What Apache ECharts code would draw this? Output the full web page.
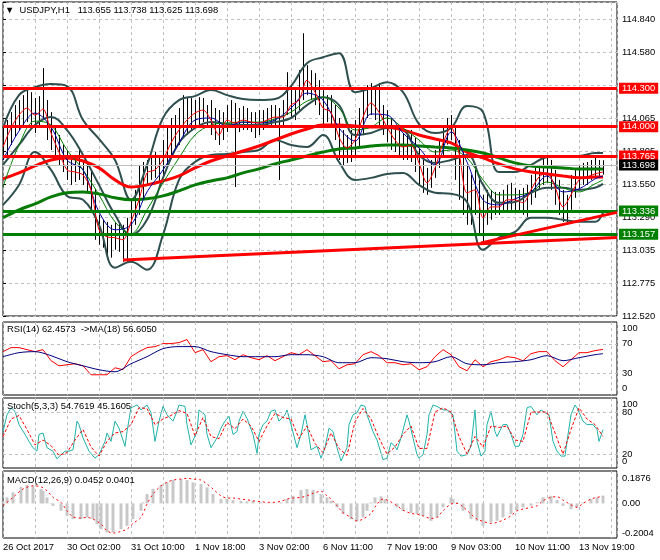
<!DOCTYPE html>
<html><head><meta charset="utf-8">
<script src="https://cdn.jsdelivr.net/npm/echarts@6/dist/echarts.min.js"></script>
<style>html,body{margin:0;padding:0;background:#fff}#c{width:660px;height:560px}</style>
</head><body><div id="c"></div>
<script>
// ---------- DATA ----------
const xTickLabels = ['26 Oct 2017','30 Oct 02:00','31 Oct 10:00','1 Nov 18:00','3 Nov 02:00','6 Nov 11:00','7 Nov 19:00','9 Nov 03:00','10 Nov 11:00','13 Nov 19:00'];
const priceTickValues = [112.520,112.778,113.036,113.293,113.551,113.809,114.067,114.325,114.582,114.840];
const priceTickLabels = ['112.520','112.775','113.035','113.290','113.550','113.805','114.065','','114.580','114.840'];
const barStep = 2; // one candle drawn every 2 hourly bars

const candleOpen = [113.802,113.841,113.919,113.990,114.052,114.091,114.130,114.153,114.114,114.075,
114.114,114.146,114.052,113.951,113.857,113.802,113.740,113.662,113.639,113.662,
113.678,113.623,113.584,113.506,113.311,113.210,113.171,113.132,113.116,113.139,
113.132,113.116,113.171,113.256,113.334,113.428,113.545,113.646,113.662,113.678,
113.646,113.740,113.818,113.873,113.912,113.974,114.013,114.052,114.075,114.107,
114.114,114.130,114.091,114.036,113.974,113.935,113.990,114.052,114.075,114.036,
114.036,114.052,114.052,114.036,114.021,114.036,114.052,114.068,114.068,114.083,
114.068,114.091,114.208,114.169,114.146,114.247,114.348,114.364,114.325,114.270,
114.192,114.130,114.130,114.114,114.029,113.919,113.841,113.834,113.857,113.896,
113.951,114.068,114.177,114.185,114.146,114.114,114.052,113.997,113.935,113.896,
113.873,113.841,113.841,113.857,113.779,113.701,113.607,113.561,113.623,113.701,
113.779,113.873,113.974,113.997,113.896,113.740,113.623,113.483,113.428,113.490,
113.428,113.288,113.350,113.373,113.373,113.381,113.405,113.444,113.451,113.428,
113.412,113.405,113.428,113.506,113.545,113.600,113.646,113.662,113.623,113.545,
113.451,113.389,113.366,113.467,113.545,113.584,113.615,113.623,113.646,113.662,
113.655];
const candleClose = [113.841,113.919,113.990,114.052,114.091,114.130,114.153,114.114,114.075,114.114,
114.146,114.052,113.951,113.857,113.802,113.740,113.662,113.639,113.662,113.678,
113.623,113.584,113.506,113.311,113.210,113.171,113.132,113.116,113.139,113.132,
113.116,113.171,113.256,113.334,113.428,113.545,113.646,113.662,113.678,113.646,
113.740,113.818,113.873,113.912,113.974,114.013,114.052,114.075,114.107,114.114,
114.130,114.091,114.036,113.974,113.935,113.990,114.052,114.075,114.036,114.036,
114.052,114.052,114.036,114.021,114.036,114.052,114.068,114.068,114.083,114.068,
114.091,114.208,114.169,114.146,114.247,114.348,114.364,114.325,114.270,114.192,
114.130,114.130,114.114,114.029,113.919,113.841,113.834,113.857,113.896,113.951,
114.068,114.177,114.185,114.146,114.114,114.052,113.997,113.935,113.896,113.873,
113.841,113.841,113.857,113.779,113.701,113.607,113.561,113.623,113.701,113.779,
113.873,113.974,113.997,113.896,113.740,113.623,113.483,113.428,113.490,113.428,
113.288,113.350,113.373,113.373,113.381,113.405,113.444,113.451,113.428,113.412,
113.405,113.428,113.506,113.545,113.600,113.646,113.662,113.623,113.545,113.451,
113.389,113.366,113.467,113.545,113.584,113.615,113.623,113.646,113.662,113.678,
113.698];
const candleHigh = [114.013,114.052,114.114,114.169,114.208,114.247,114.309,114.270,114.224,114.239,
114.458,114.208,114.114,113.990,113.935,113.857,113.818,113.740,113.779,113.818,
113.740,113.724,113.662,113.515,113.311,113.272,113.256,113.233,113.256,113.249,
113.233,113.288,113.428,113.506,113.701,113.724,113.740,113.779,113.802,113.779,
113.896,114.013,114.068,114.091,114.146,114.247,114.231,114.224,114.208,114.231,
114.224,114.169,114.208,114.146,114.130,114.114,114.169,114.208,114.185,114.146,
114.161,114.146,114.114,114.114,114.130,114.130,114.146,114.169,114.169,114.146,
114.208,114.426,114.325,114.286,114.442,114.731,114.481,114.442,114.419,114.364,
114.286,114.247,114.247,114.169,114.068,113.974,113.935,113.974,114.052,114.146,
114.286,114.325,114.341,114.302,114.341,114.169,114.130,114.068,114.013,113.974,
113.951,113.958,113.974,113.912,113.834,113.740,113.678,113.740,113.818,113.896,
114.013,114.068,114.091,114.013,113.896,113.818,113.701,113.623,113.662,113.584,
113.467,113.506,113.506,113.490,113.490,113.506,113.545,113.561,113.522,113.506,
113.522,113.545,113.623,113.678,113.701,113.763,113.756,113.740,113.662,113.584,
113.506,113.467,113.623,113.662,113.701,113.717,113.724,113.740,113.756,113.740,
113.738];
const candleLow = [113.740,113.779,113.857,113.919,113.974,114.013,114.036,113.990,113.951,114.013,
114.052,113.896,113.818,113.756,113.701,113.646,113.584,113.545,113.568,113.584,
113.545,113.490,113.350,113.116,113.077,113.054,112.999,112.976,113.038,113.022,
112.944,112.944,113.155,113.233,113.311,113.428,113.545,113.584,113.600,113.568,
113.623,113.701,113.779,113.818,113.857,113.912,113.935,113.974,114.013,114.013,
114.036,113.990,113.935,113.896,113.857,113.896,113.958,113.990,113.529,113.958,
113.974,113.974,113.958,113.912,113.935,113.974,113.990,113.990,114.013,113.584,
114.013,114.091,114.068,114.052,114.130,114.208,114.247,114.208,114.169,114.091,
114.013,114.036,113.990,113.896,113.740,113.701,113.717,113.724,113.779,113.834,
113.940,114.068,114.091,114.052,114.013,113.935,113.880,113.818,113.802,113.779,
113.740,113.740,113.724,113.646,113.545,113.483,113.467,113.522,113.600,113.678,
113.756,113.860,113.896,113.584,113.428,113.311,113.233,113.233,113.311,113.155,
113.100,113.233,113.272,113.311,113.311,113.327,113.334,113.350,113.334,113.327,
113.311,113.295,113.389,113.444,113.506,113.545,113.561,113.506,113.389,113.311,
113.256,113.249,113.350,113.444,113.506,113.545,113.545,113.584,113.600,113.615,
113.625];

// fast MA (thin red), sampled every 4 bars
const maFast = [113.841,113.990,114.091,114.146,114.091,114.138,113.951,113.802,113.662,113.646,
113.623,113.506,113.194,113.139,113.132,113.116,113.256,113.428,113.639,113.662,
113.740,113.873,113.974,114.052,114.107,114.130,114.052,113.935,114.052,114.029,
114.052,114.036,114.029,114.052,114.075,114.075,114.169,114.208,114.364,114.270,
114.146,114.114,113.919,113.834,113.896,114.075,114.185,114.114,113.997,113.896,
113.841,113.857,113.717,113.561,113.678,113.873,113.997,113.795,113.483,113.506,
113.288,113.373,113.373,113.428,113.428,113.405,113.506,113.607,113.639,113.529,
113.373,113.467,113.584,113.607,113.631,113.646];
// the following are sampled every 8 bars plus the last bar
const maMid = [113.740,113.966,114.107,113.997,113.740,113.662,113.334,113.194,113.233,113.490,
113.662,113.873,114.052,114.068,114.005,114.036,114.029,114.052,114.146,114.263,
114.208,113.990,113.888,114.099,114.091,113.951,113.834,113.701,113.958,113.724,
113.428,113.389,113.436,113.490,113.615,113.490,113.514,113.592,113.615];
const maSlow = [113.529,113.857,114.044,114.013,113.818,113.662,113.467,113.256,113.163,113.350,
113.561,113.756,113.935,114.013,114.029,114.036,114.036,114.060,114.114,114.200,
114.231,114.146,113.974,113.997,114.068,113.990,113.896,113.802,113.818,113.756,
113.584,113.467,113.467,113.490,113.568,113.522,113.490,113.553,113.584];
const maLongRed = [113.592,113.639,113.693,113.740,113.756,113.732,113.678,113.584,113.529,113.545,
113.576,113.615,113.678,113.732,113.771,113.810,113.849,113.896,113.943,113.982,
114.013,114.013,114.005,113.997,113.997,113.974,113.935,113.904,113.873,113.802,
113.756,113.709,113.670,113.646,113.631,113.615,113.600,113.607,113.607];
const maLongGreen = [113.288,113.350,113.397,113.451,113.483,113.490,113.475,113.444,113.428,113.436,
113.459,113.498,113.545,113.576,113.600,113.639,113.670,113.709,113.740,113.771,
113.802,113.826,113.834,113.849,113.857,113.857,113.849,113.841,113.834,113.818,
113.795,113.756,113.717,113.693,113.685,113.678,113.670,113.670,113.670];
const bbUpper = [113.990,114.247,114.309,114.333,114.317,114.052,113.904,113.740,113.428,113.701,
114.068,114.208,114.239,114.286,114.247,114.216,114.208,114.216,114.317,114.497,
114.543,114.575,114.270,114.302,114.348,114.270,114.021,113.951,113.990,114.161,
114.114,113.646,113.646,113.701,113.763,113.771,113.771,113.795,113.795];
const bbMiddle = [113.701,113.857,114.013,114.075,113.974,113.779,113.545,113.311,113.155,113.272,
113.600,113.873,113.990,114.036,114.021,114.013,114.013,114.036,114.068,114.169,
114.231,114.169,113.935,113.951,113.990,113.974,113.779,113.717,113.740,113.779,
113.545,113.405,113.412,113.483,113.522,113.522,113.506,113.522,113.553];
const bbLower = [113.389,113.545,113.802,113.662,113.459,113.428,113.233,112.898,112.944,112.882,
113.155,113.584,113.724,113.779,113.787,113.802,113.818,113.896,113.857,113.841,
113.935,113.724,113.584,113.600,113.631,113.639,113.545,113.483,113.475,113.412,
113.038,113.132,113.178,113.288,113.288,113.272,113.256,113.256,113.327];

const redLevels = [114.300, 114.000, 113.765];
const greenLevels = [113.336, 113.157];
const bidPrice = 113.698;
const trendLines = [[[60, 112.958], [307, 113.134]], [[239, 113.092], [307, 113.330]]];

// RSI(14) every 4 bars, MA(18) every 8 bars + last
const rsiValues = [59.4,64.9,64.9,62.1,59.4,62.1,47.0,40.0,41.4,42.8,
40.0,27.7,27.7,27.7,37.3,34.6,52.5,59.4,64.9,66.3,
70.4,70.4,71.8,76.0,58.0,62.1,45.6,52.5,53.9,48.3,
55.2,51.1,48.3,53.9,47.0,52.5,58.0,55.2,62.1,53.9,
45.6,47.0,35.9,41.4,42.8,55.2,59.4,53.9,44.2,44.2,
41.4,42.8,34.6,38.7,52.5,62.1,55.2,38.7,33.2,48.3,
38.7,45.6,48.3,52.5,51.1,47.0,56.6,59.4,59.4,47.0,
38.7,48.3,58.0,58.0,60.8,62.46];
const rsiMA = [52.5,58.0,59.4,53.9,45.6,40.0,34.6,31.8,42.8,52.5,
63.5,66.3,66.3,59.4,55.2,52.5,52.5,52.5,55.2,55.2,
52.5,44.2,44.2,51.1,49.7,45.6,44.2,45.6,52.5,42.8,
41.4,44.2,45.6,48.3,53.9,47.0,51.1,55.2,56.6];
const rsiLevels = [30, 70];
const rsiAxisMarks = [0, 30, 70, 100];

// Stochastic (bar index, value)
const stochMain = [[0,52],[2,76],[4,86],[6,81],[8,62],[11,48],[13,38],[15,29],[17,24],[18,48],[20,50],[22,29],[25,24],[27,13],[29,19],[31,24],[33,24],[35,26],[37,67],[38,62],[40,43],[43,24],[46,14],[48,19],[51,38],[52,50],[54,38],[56,67],[58,57],[61,31],[62,52],[64,86],[67,90],[69,83],[72,90],[74,79],[76,38],[78,67],[80,88],[82,76],[85,67],[87,81],[88,90],[91,88],[92,62],[94,33],[97,52],[98,83],[101,76],[102,48],[104,29],[107,43],[109,57],[111,67],[113,74],[115,48],[117,52],[118,67],[120,81],[122,71],[125,48],[127,21],[128,48],[130,62],[132,67],[134,81],[136,83],[138,67],[141,76],[142,83],[144,62],[147,29],[149,48],[151,76],[152,62],[154,26],[157,31],[159,14],[161,29],[163,57],[165,52],[167,29],[169,10],[170,10],[172,29],[173,62],[175,76],[177,79],[179,90],[181,88],[182,76],[185,52],[187,40],[188,38],[190,12],[192,14],[194,36],[196,31],[197,26],[199,43],[202,76],[203,67],[205,43],[207,19],[208,14],[210,19],[212,48],[213,76],[215,90],[217,88],[220,83],[222,83],[225,76],[227,24],[229,17],[232,19],[234,31],[236,83],[237,38],[239,17],[241,24],[242,62],[244,81],[246,52],[247,45],[250,62],[252,62],[254,48],[256,31],[258,31],[260,48],[262,86],[264,88],[267,76],[269,83],[271,79],[273,76],[275,38],[277,24],[279,17],[281,17],[282,38],[284,76],[286,90],[287,86],[290,67],[292,62],[295,62],[297,55],[298,38],[300,54.76]];
const stochSignal = [[0,45],[4,70],[8,75],[12,55],[16,33],[20,40],[24,32],[28,18],[32,22],[36,40],[40,55],[44,30],[48,17],[52,38],[56,50],[60,52],[64,62],[68,86],[72,85],[76,62],[80,70],[84,75],[88,82],[92,78],[96,46],[100,72],[104,45],[108,42],[112,65],[116,56],[120,70],[124,60],[128,38],[132,60],[136,78],[140,72],[144,70],[148,42],[152,60],[156,35],[160,22],[164,50],[168,28],[172,18],[176,66],[180,85],[184,70],[188,43],[192,20],[196,30],[200,48],[204,60],[208,28],[212,28],[216,80],[220,86],[224,80],[228,45],[232,20],[236,45],[240,30],[244,60],[248,58],[252,60],[256,40],[260,38],[264,80],[268,80],[272,80],[276,50],[280,20],[284,55],[288,86],[292,70],[296,62],[300,45.16]];
const stochLevels = [20, 80];
const stochAxisMarks = [0, 20, 80, 100];

// MACD (bar index, value)
const macdHist = [[0,0.010],[2,0.035],[5,0.064],[9,0.096],[12,0.106],[15,0.102],[19,0.083],[20,0.073],[22,0.035],[24,0.002],[25,-0.014],[29,-0.043],[32,-0.072],[35,-0.091],[39,-0.091],[42,-0.081],[45,-0.091],[47,-0.120],[49,-0.149],[52,-0.168],[55,-0.168],[59,-0.149],[62,-0.130],[65,-0.091],[69,-0.043],[70,0.006],[72,0.054],[75,0.083],[79,0.106],[82,0.122],[85,0.135],[89,0.141],[92,0.135],[95,0.122],[99,0.112],[102,0.093],[105,0.054],[109,0.025],[112,0.025],[115,0.019],[119,0.015],[122,0.012],[125,0.015],[129,0.006],[132,0.002],[135,0.002],[139,0.006],[142,0.025],[145,0.044],[149,0.077],[152,0.083],[155,0.077],[159,0.054],[162,0.035],[164,0.015],[167,-0.023],[170,-0.062],[174,-0.091],[177,-0.104],[180,-0.081],[182,-0.043],[184,0.006],[186,0.035],[189,0.041],[191,0.025],[194,0.002],[197,-0.023],[200,-0.043],[204,-0.055],[207,-0.060],[210,-0.072],[214,-0.101],[217,-0.081],[220,-0.023],[224,0.035],[225,0.025],[227,0.006],[230,-0.043],[234,-0.091],[237,-0.101],[240,-0.130],[244,-0.110],[247,-0.101],[250,-0.081],[254,-0.062],[257,-0.043],[260,-0.023],[264,-0.014],[267,0.006],[270,0.035],[274,0.044],[277,0.019],[280,-0.014],[284,-0.033],[287,-0.023],[290,0.006],[294,0.025],[297,0.035],[300,0.0452]];
const macdSignal = [[0,-0.014],[5,0.035],[10,0.083],[15,0.102],[19,0.096],[22,0.073],[25,0.035],[29,0.006],[32,-0.043],[35,-0.078],[39,-0.085],[42,-0.081],[45,-0.091],[49,-0.120],[52,-0.159],[55,-0.172],[59,-0.162],[62,-0.149],[65,-0.116],[69,-0.081],[72,-0.004],[75,0.054],[79,0.102],[82,0.122],[85,0.135],[89,0.141],[92,0.145],[95,0.141],[99,0.135],[102,0.112],[105,0.083],[109,0.044],[112,0.031],[115,0.031],[119,0.025],[122,0.021],[125,0.015],[129,0.010],[132,0.006],[135,0.006],[139,0.012],[142,0.025],[145,0.031],[149,0.035],[152,0.044],[155,0.058],[159,0.070],[162,0.044],[164,0.025],[167,-0.014],[170,-0.053],[174,-0.081],[177,-0.101],[180,-0.091],[184,-0.058],[187,-0.004],[190,0.025],[193,0.015],[197,-0.014],[200,-0.039],[204,-0.058],[207,-0.062],[210,-0.072],[214,-0.087],[217,-0.081],[220,-0.043],[224,-0.004],[227,0.000],[230,-0.020],[234,-0.062],[237,-0.091],[240,-0.104],[244,-0.116],[247,-0.110],[250,-0.097],[254,-0.072],[257,-0.043],[260,-0.033],[264,-0.023],[267,-0.014],[270,0.015],[274,0.035],[277,0.039],[280,0.019],[284,-0.008],[287,-0.023],[290,0.000],[294,0.025],[297,0.035],[300,0.0401]];
const macdAxisMarks = [-0.2004, 0, 0.1876];
const macdAxisLabels = ['-0.2004', '0.00', '0.1876'];

// ---------- CHART ----------
const FONT = "'Liberation Sans', Arial, sans-serif";
const FS = 9.4;
const idx4 = Array.from({length: maFast.length}, (_, j) => 4 * j);
const idx8 = Array.from({length: maMid.length - 1}, (_, j) => 8 * j).concat([300]);
const pairs = (idx, vals) => vals.map((v, k) => [idx[k], v]);
const candleData = candleClose.map((c, k) => [k * barStep, candleOpen[k], c, candleLow[k], candleHigh[k]]);

const near = (a, b, tol) => Math.abs(a - b) < tol;
const edgeRich = {
  t: {fontFamily: FONT, fontSize: FS, color: '#000', padding: [12, 0, 0, 0]},
  b: {fontFamily: FONT, fontSize: FS, color: '#000', padding: [0, 0, 13, 0]},
  t2: {fontFamily: FONT, fontSize: FS, color: '#000', padding: [14, 0, 0, 0]},
  b2: {fontFamily: FONT, fontSize: FS, color: '#000', padding: [0, 0, 10, 0]}
};
const dashed = {color: '#C0C0C0', type: [3, 3], width: 1};

const grids = [
  {left: 3, top: 2, width: 614, height: 314},
  {left: 3, top: 322, width: 614, height: 73},
  {left: 3, top: 398, width: 614, height: 70},
  {left: 3, top: 471, width: 614, height: 67}
].map(g => Object.assign(g, {show: true, borderColor: '#000', borderWidth: 1, containLabel: false}));

const xAxes = [0, 1, 2, 3].map(g => ({
  type: 'value', gridIndex: g, min: 0, max: 307, interval: 16,
  axisLine: {show: false}, axisTick: {show: false},
  splitLine: {show: true, lineStyle: dashed},
  axisLabel: {
    show: g === 3, align: 'left', margin: 5, fontFamily: FONT, fontSize: FS, color: '#000',
    formatter: v => (v % 32 === 0 && xTickLabels[v / 32]) ? xTickLabels[v / 32] : ''
  }
}));

const axisLabelBase = {fontFamily: FONT, fontSize: FS, color: '#000', margin: 5, rich: edgeRich};
const yAxes = [
  {type: 'value', gridIndex: 0, position: 'right', min: 112.52, max: 114.975, interval: 0.2578,
   axisLine: {show: false}, axisTick: {show: true, length: 3, lineStyle: {color: '#000'}},
   splitLine: {show: true, lineStyle: dashed},
   axisLabel: Object.assign({}, axisLabelBase, {formatter: v => {
     const k = priceTickValues.findIndex(t => near(t, v, 0.02));
     return k >= 0 ? priceTickLabels[k] : '';
   }})},
  {type: 'value', gridIndex: 1, position: 'right', min: 0, max: 100, interval: 10,
   axisLine: {show: false}, axisTick: {show: false}, splitLine: {show: false},
   axisLabel: Object.assign({}, axisLabelBase, {formatter: v => {
     if (!rsiAxisMarks.includes(v)) return '';
     if (v === 100) return '{t|100}';
     if (v === 0) return '{b|0}';
     return String(v);
   }})},
  {type: 'value', gridIndex: 2, position: 'right', min: 0, max: 100, interval: 10,
   axisLine: {show: false}, axisTick: {show: false}, splitLine: {show: false},
   axisLabel: Object.assign({}, axisLabelBase, {formatter: v => {
     if (!stochAxisMarks.includes(v)) return '';
     if (v === 100) return '{t|100}';
     if (v === 0) return '{b|0}';
     return String(v);
   }})},
  {type: 'value', gridIndex: 3, position: 'right', min: -0.2004, max: 0.1876, interval: 0.2004,
   axisLine: {show: false}, axisTick: {show: false}, splitLine: {show: false},
   axisLabel: Object.assign({}, axisLabelBase, {formatter: v => {
     const k = macdAxisMarks.findIndex(t => near(t, v, 1e-4));
     if (k < 0) return '';
     if (k === 0) return '{b2|' + macdAxisLabels[k] + '}';
     if (k === 2) return '{t2|' + macdAxisLabels[k] + '}';
     return macdAxisLabels[k];
   }})}
];

function line(name, g, data, color, width, z, smooth, extra) {
  return Object.assign({
    name, type: 'line', xAxisIndex: g, yAxisIndex: g, data,
    showSymbol: false, symbol: 'none', smooth: smooth,
    lineStyle: {color, width}, z, silent: true, animation: false
  }, extra || {});
}
function tag(bg, v) {
  return {show: true, position: 'end', distance: 2, formatter: () => v.toFixed(3),
    color: '#fff', backgroundColor: bg, padding: [1, 3, 0, 3],
    fontFamily: FONT, fontSize: FS, lineHeight: 10};
}
const levelData = [].concat(
  redLevels.map(v => ({yAxis: v, lineStyle: {color: '#FF0000', width: 3, type: 'solid'}, label: tag('#FF0000', v)})),
  greenLevels.map(v => ({yAxis: v, lineStyle: {color: '#008000', width: 3, type: 'solid'}, label: tag('#008000', v)})),
  [{yAxis: bidPrice, lineStyle: {color: '#C0C0C0', width: 1, type: 'solid'}, label: tag('#000000', bidPrice)}],
  trendLines.map(t => [{coord: t[0], lineStyle: {color: '#FF0000', width: 3, type: 'solid'}, label: {show: false}}, {coord: t[1]}])
);

const series = [
  {type: 'custom', name: 'USDJPY', xAxisIndex: 0, yAxisIndex: 0, data: candleData, z: 1, silent: true,
   encode: {x: 0, y: [1, 2, 3, 4]}, clip: true,
   renderItem: (params, api) => {
     const x = api.value(0);
     const pH = api.coord([x, api.value(4)]);
     const pL = api.coord([x, api.value(3)]);
     const pO = api.coord([x, api.value(1)]);
     const pC = api.coord([x, api.value(2)]);
     const cx = Math.round(pH[0]) + 0.5;
     return {type: 'group', children: [
       {type: 'line', shape: {x1: cx, y1: pH[1], x2: cx, y2: pL[1]}, style: {stroke: '#000', lineWidth: 1}},
       {type: 'rect', shape: {x: cx - 0.5, y: Math.min(pO[1], pC[1]), width: 1, height: Math.max(1, Math.abs(pO[1] - pC[1]))}, style: {fill: '#000'}}
     ]};
   }},
  line('BB upper', 0, pairs(idx8, bbUpper), '#2F4F4F', 2, 2, 0.4),
  line('BB middle', 0, pairs(idx8, bbMiddle), '#2F4F4F', 2, 2, 0.4),
  line('BB lower', 0, pairs(idx8, bbLower), '#2F4F4F', 2, 2, 0.4),
  line('MA long red', 0, pairs(idx8, maLongRed), '#FF0000', 3, 3, 0.4),
  line('MA long green', 0, pairs(idx8, maLongGreen), '#077A07', 3, 3, 0.4),
  line('MA slow', 0, pairs(idx8, maSlow), '#008000', 1, 4, 0.35),
  line('MA mid', 0, pairs(idx8, maMid), '#0000A0', 1, 4, 0.35),
  line('MA fast', 0, pairs(idx4, maFast), '#FF0000', 1, 4, 0.3),
  {type: 'line', name: 'levels', xAxisIndex: 0, yAxisIndex: 0, data: [], z: 6, clip: false, silent: true,
   markLine: {symbol: ['none', 'none'], silent: true, animation: false, data: levelData}},
  line('RSI', 1, pairs(idx4, rsiValues), '#FF0000', 1, 3, false, {
    markLine: {symbol: ['none', 'none'], silent: true, animation: false, label: {show: false},
      lineStyle: dashed, data: rsiLevels.map(v => ({yAxis: v}))}}),
  line('RSI MA', 1, pairs(idx8, rsiMA), '#000080', 1, 4, 0.3),
  line('Stoch main', 2, stochMain, '#20B2AA', 1, 4, false, {
    markLine: {symbol: ['none', 'none'], silent: true, animation: false, label: {show: false},
      lineStyle: dashed, data: stochLevels.map(v => ({yAxis: v}))}}),
  line('Stoch signal', 2, stochSignal, '#FF0000', 1, 5, false, {lineStyle: {color: '#FF0000', width: 1, type: [3, 2]}}),
  {type: 'bar', name: 'MACD', xAxisIndex: 3, yAxisIndex: 3, data: macdHist, barWidth: 3,
   itemStyle: {color: '#C8C8C8'}, z: 2, silent: true, animation: false},
  line('MACD signal', 3, macdSignal, '#FF0000', 1, 4, 0.3, {lineStyle: {color: '#FF0000', width: 1, type: [2, 3]}})
];

const titleStyle = {fontFamily: FONT, fontSize: FS, fontWeight: 'normal', color: '#000'};
const option = {
  animation: false,
  backgroundColor: '#fff',
  title: [
    {text: '\u25BC  USDJPY,H1   113.655 113.738 113.625 113.698', left: 5, top: 6, padding: 0, textStyle: titleStyle},
    {text: 'RSI(14) 62.4573  ->MA(18) 56.6050', left: 7, top: 325, padding: 0, textStyle: titleStyle},
    {text: 'Stoch(5,3,3) 54.7619 45.1605', left: 7, top: 402, padding: 0, textStyle: titleStyle},
    {text: 'MACD(12,26,9) 0.0452 0.0401', left: 7, top: 476, padding: 0, textStyle: titleStyle}
  ],
  grid: grids,
  xAxis: xAxes,
  yAxis: yAxes,
  series: series
};
const chart = echarts.init(document.getElementById('c'), null, {renderer: 'canvas'});
chart.setOption(option);
</script>
</body></html>
